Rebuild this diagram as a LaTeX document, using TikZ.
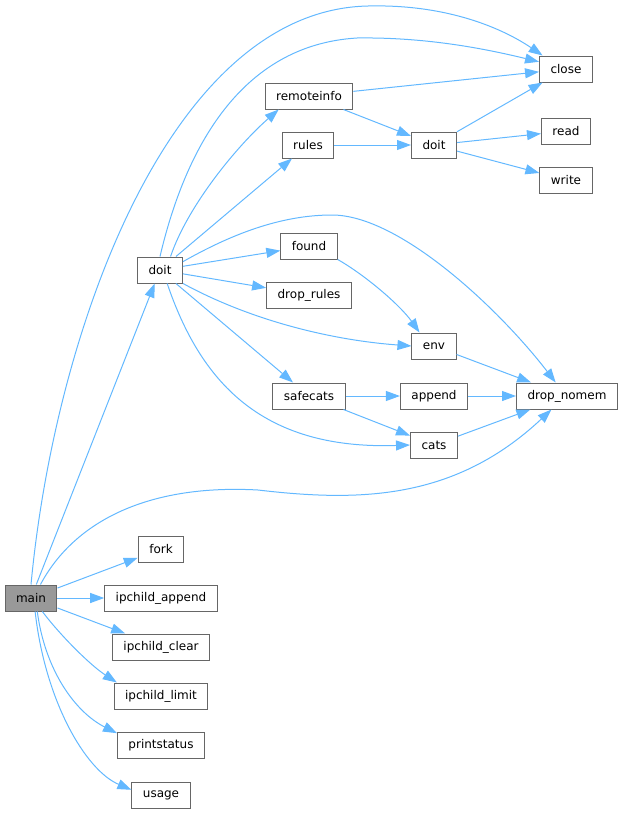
\documentclass[tikz,border=0pt]{standalone}
\usepackage{fontspec}
\setmainfont{DejaVu Sans}
\usetikzlibrary{arrows.meta}
\definecolor{edgeblue}{HTML}{63B8FF}
\definecolor{boxgray}{HTML}{666666}
\definecolor{mainfill}{HTML}{999999}
\begin{document}
\begin{tikzpicture}[x=0.75pt, y=-0.75pt, >={Triangle[length=10.5pt,width=7.5pt]},
        fn/.style={draw=boxgray, line width=0.75pt, rectangle, inner xsep=8.25pt, inner ysep=0pt, minimum height=19.5pt, font=\fontsize{9}{11}\selectfont},
        call/.style={->, draw=edgeblue, line width=0.75pt}]
        \useasboundingbox (0,0) rectangle (622,814);

        % Nodes
        \node (main) [fn, fill=mainfill] at (31,598) {main};
        \node (doit) [fn] at (160,270) {doit};
        \node (fork) [fn] at (161,549) {fork};
        \node (ipappend) [fn] at (161,598) {ipchild\_append};
        \node (ipclear) [fn] at (161,647) {ipchild\_clear};
        \node (iplimit) [fn] at (161,696) {ipchild\_limit};
        \node (pstatus) [fn] at (161,745) {printstatus};
        \node (usage) [fn] at (161,795) {usage};
        \node (rinfo) [fn] at (309,96) {remoteinfo};
        \node (rules) [fn] at (308,145) {rules};
        \node (found) [fn] at (309,246) {found};
        \node (droprules) [fn] at (309,295) {drop\_rules};
        \node (safecats) [fn] at (309,396) {safecats};
        \node (doitb) [fn] at (434,145) {doit};
        \node (env) [fn] at (434,346) {env};
        \node (append) [fn] at (434,396) {append};
        \node (cats) [fn] at (434,445) {cats};
        \node (close) [fn] at (566,69) {close};
        \node (read) [fn] at (566,131) {read};
        \node (write) [fn] at (566,180) {write};
        \node (nomem) [fn] at (567,396) {drop\_nomem};

        % Edges
        \draw[call] (main.north) .. controls (55,330) and (170,10) .. (368,6) .. controls (450,4) and (505,30) .. (close.150);
        \draw[call] (main) -- (doit);
        \draw[call] (main.55) .. controls (75,520) and (150,484) .. (258,490) .. controls (360,502) and (455,500) .. (nomem.221);
        \draw[call] (main) -- (fork);
        \draw[call] (main) -- (ipappend);
        \draw[call] (main) -- (ipclear);
        \draw[call] (main.-50) .. controls (60,635) and (90,665) .. (iplimit.163);
        \draw[call] (main.-65) .. controls (45,670) and (75,712) .. (pstatus.165);
        \draw[call] (main.-73) .. controls (45,700) and (85,770) .. (usage.170);

        \draw[call] (doit.north) .. controls (185,150) and (240,45) .. (357,38) .. controls (430,37) and (490,50) .. (close.165);
        \draw[call] (doit.52) .. controls (188,205) and (238,145) .. (rinfo.204);
        \draw[call] (doit) -- (rules);
        \draw[call] (doit.20) .. controls (230,235) and (280,215) .. (332,215) .. controls (400,215) and (500,310) .. (nomem.130);
        \draw[call] (doit) -- (found);
        \draw[call] (doit) -- (droprules);
        \draw[call] (doit.south east) .. controls (250,320) and (330,340) .. (env.west);
        \draw[call] (doit) -- (safecats);
        \draw[call] (doit.-62) .. controls (200,380) and (260,450) .. (cats.west);

        \draw[call] (rinfo) -- (close);
        \draw[call] (rinfo) -- (doitb);
        \draw[call] (rules) -- (doitb);
        \draw[call] (doitb) -- (close);
        \draw[call] (doitb) -- (read);
        \draw[call] (doitb) -- (write);
        \draw[call] (found.south east) .. controls (365,275) and (400,305) .. (env.137);
        \draw[call] (env) -- (nomem);
        \draw[call] (safecats) -- (append);
        \draw[call] (safecats) -- (cats);
        \draw[call] (append) -- (nomem);
        \draw[call] (cats) -- (nomem);
    \end{tikzpicture}
\end{document}
